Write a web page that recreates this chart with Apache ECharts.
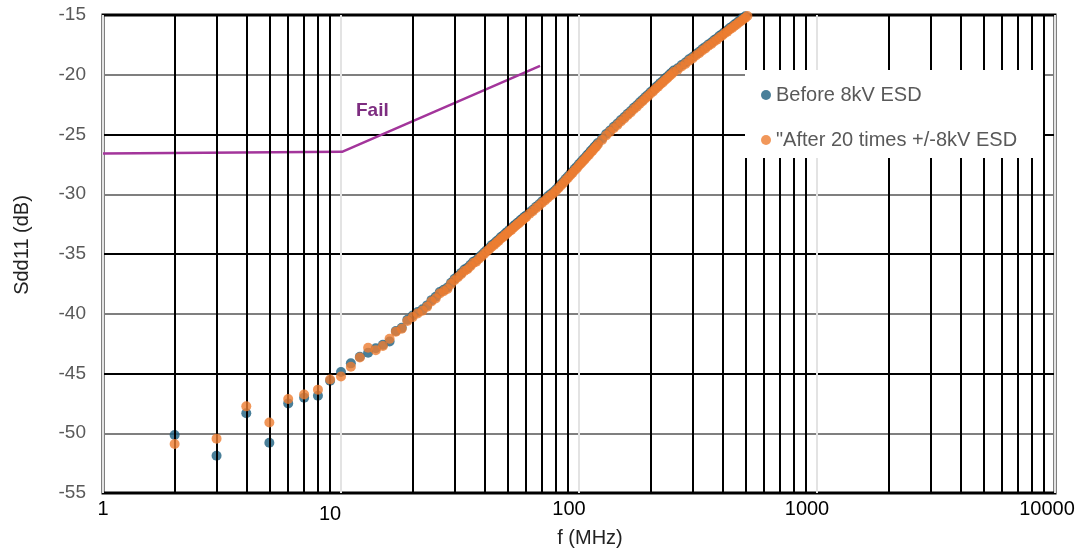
<!DOCTYPE html>
<html>
<head>
<meta charset="utf-8">
<script src="https://cdn.jsdelivr.net/npm/echarts@6/dist/echarts.min.js"></script>
<style>
  html, body { margin: 0; padding: 0; background: #fff; }
  #chart { width: 1081px; height: 554px; }
</style>
</head>
<body>
<div id="chart"></div>
<script>
// Measurement frequencies (MHz)
const freq = [
  2, 3, 4, 5, 6, 7, 8, 9, 10, 11, 12, 13, 14, 15, 16, 17, 18, 19, 20,
  21, 22, 23, 24, 25, 26, 27, 28, 29, 30, 31, 32, 33, 34, 35, 36, 37, 38, 39, 40,
  41, 42, 43, 44, 45, 46, 47, 48, 49, 50, 51, 52, 53, 54, 55, 56, 57, 58, 59, 60,
  62, 64, 66, 68, 70, 72, 74, 76, 78, 80, 82, 84, 86, 88, 90, 92, 94, 96, 98, 100,
  102, 104, 106, 108, 110, 112, 114, 116, 118, 120,
  125, 130, 135, 140, 145, 150, 155, 160, 165, 170, 175, 180, 185, 190, 195, 200,
  205, 210, 215, 220, 225, 230, 235, 240, 245, 250,
  260, 270, 280, 290, 300, 310, 320, 330, 340, 350, 360, 370, 380, 390, 400,
  410, 420, 430, 440, 450, 460, 470, 480, 490, 500, 510
];

// Sdd11 before ESD (dB)
const before = [
  -50.15, -51.88, -48.33, -50.8, -47.5, -47.02, -46.86, -45.6, -44.87, -44.15, -43.6, -43.26, -42.88, -42.6, -42.32, -41.45, -41.18, -40.5, -40.15,
  -39.85, -39.62, -39.3, -38.86, -38.58, -38.18, -38.0, -37.8, -37.4, -37.08, -36.83, -36.58, -36.3, -36.16, -35.9, -35.64, -35.52, -35.28, -35.08, -34.86,
  -34.66, -34.48, -34.26, -34.12, -33.93, -33.78, -33.58, -33.46, -33.28, -33.15, -32.98, -32.86, -32.68, -32.56, -32.4, -32.3, -32.14, -32.03, -31.88, -31.78,
  -31.51, -31.29, -31.04, -30.83, -30.59, -30.4, -30.17, -29.99, -29.82, -29.6, -29.38, -29.14, -28.93, -28.7, -28.5, -28.28, -28.09, -27.87, -27.7, -27.48,
  -27.31, -27.11, -26.94, -26.74, -26.59, -26.39, -26.24, -26.05, -25.91, -25.72,
  -25.34, -24.96, -24.66, -24.35, -24.08, -23.79, -23.54, -23.26, -23.03, -22.77, -22.55, -22.3, -22.1, -21.87, -21.67, -21.45,
  -21.27, -21.05, -20.88, -20.68, -20.52, -20.32, -20.17, -19.98, -19.84, -19.65,
  -19.45, -19.19, -18.97, -18.71, -18.51, -18.27, -18.08, -17.85, -17.67, -17.46, -17.3, -17.09, -16.94, -16.74, -16.6,
  -16.41, -16.27, -16.09, -15.96, -15.79, -15.67, -15.5, -15.38, -15.23, -15.11, -14.98
];

// Sdd11 after 20 times +/-8kV ESD (dB)
const after = [
  -50.9, -50.45, -47.75, -49.1, -47.13, -46.75, -46.35, -45.5, -45.25, -44.43, -43.66, -42.84, -43.06, -42.7, -42.1, -41.5, -41.25, -40.6, -40.28,
  -39.97, -39.74, -39.42, -38.98, -38.72, -38.3, -38.12, -37.92, -37.52, -37.2, -36.95, -36.7, -36.42, -36.28, -36.02, -35.76, -35.64, -35.4, -35.2, -34.98,
  -34.78, -34.6, -34.38, -34.24, -34.05, -33.9, -33.7, -33.58, -33.4, -33.27, -33.1, -32.98, -32.8, -32.68, -32.52, -32.42, -32.26, -32.15, -32.0, -31.9,
  -31.63, -31.41, -31.16, -30.95, -30.71, -30.52, -30.29, -30.11, -29.94, -29.72, -29.5, -29.26, -29.05, -28.82, -28.62, -28.4, -28.21, -27.99, -27.82, -27.6,
  -27.43, -27.23, -27.06, -26.86, -26.71, -26.51, -26.36, -26.17, -26.03, -25.84,
  -25.46, -25.08, -24.78, -24.47, -24.2, -23.91, -23.66, -23.38, -23.15, -22.89, -22.67, -22.42, -22.22, -21.99, -21.79, -21.57,
  -21.39, -21.17, -21.0, -20.8, -20.64, -20.44, -20.29, -20.1, -19.96, -19.77,
  -19.57, -19.31, -19.09, -18.83, -18.63, -18.39, -18.2, -17.97, -17.79, -17.58, -17.42, -17.21, -17.06, -16.86, -16.72,
  -16.53, -16.39, -16.21, -16.08, -15.91, -15.79, -15.62, -15.5, -15.35, -15.23, -15.09
];

// Fail limit mask
const failFreq = [1, 10.1, 68.6];
const failLimit = [-26.6, -26.45, -19.25];

// Log-axis decades and in-decade multipliers for the minor grid
const decades = [1, 10, 100, 1000];
const multipliers = [2, 3, 4, 5, 6, 7, 8, 9];

const seriesNames = ['Before 8kV ESD', '"After 20 times +/-8kV ESD'];

const minorGrid = [];
decades.forEach(d => multipliers.forEach(m => minorGrid.push({ xAxis: d * m })));

const FONT = '"Liberation Sans", Arial, sans-serif';
const tickText = { color: '#000', fontSize: 20, fontFamily: FONT };

const chart = echarts.init(document.getElementById('chart'), null, { renderer: 'canvas' });

chart.setOption({
  animation: false,
  backgroundColor: '#ffffff',
  grid: {
    left: 103, right: 26, top: 15, bottom: 61,
    containLabel: false, outerBoundsMode: 'none',
    show: true, borderColor: '#000', borderWidth: 3, backgroundColor: 'transparent'
  },
  legend: {
    data: seriesNames,
    orient: 'vertical',
    left: 745, top: 70,
    z: 12,
    padding: [15, 20, 8, 16],
    itemGap: 25,
    itemWidth: 10, itemHeight: 10,
    icon: 'circle',
    textStyle: { color: '#595959', fontSize: 20, fontFamily: FONT, lineHeight: 20 }
  },
  xAxis: {
    type: 'log', logBase: 10, min: 1, max: 10000,
    name: 'f (MHz)', nameLocation: 'middle', nameGap: 34,
    nameTextStyle: { color: '#222', fontSize: 20, fontFamily: FONT, padding: [0, 0, 0, 22] },
    axisLine: { show: false },
    axisTick: { show: false },
    axisLabel: {
      color: '#000', fontSize: 20, fontFamily: FONT, margin: 6,
      formatter: v => {
        const s = String(Math.round(v));
        if (s === '1') return s;
        if (s === '10') return '{ten|' + s + '}';
        if (s === '10000') return '{top|' + s + '}';
        return '{dec|' + s + '}';
      },
      rich: {
        ten: Object.assign({ padding: [5, 22, 0, 0] }, tickText),
        dec: Object.assign({ padding: [0, 20, 0, 0] }, tickText),
        top: Object.assign({ padding: [0, 16, 0, 0] }, tickText)
      }
    },
    splitLine: { show: true, lineStyle: { color: '#e3e3e3', width: 2 } }
  },
  yAxis: {
    type: 'value', min: -55, max: -15, interval: 5,
    name: 'Sdd11 (dB)', nameLocation: 'middle', nameGap: 71,
    nameTextStyle: { color: '#222', fontSize: 20, fontFamily: FONT, padding: [0, 0, 0, 18] },
    axisLine: { show: false },
    axisTick: { show: false },
    axisLabel: { color: '#595959', fontSize: 19, fontFamily: FONT, margin: 17 },
    splitLine: { show: true, lineStyle: { color: ['#000', '#7f7f7f'], width: 2 } }
  },
  graphic: [
    {
      // white panel behind the legend
      type: 'rect', z: 11, silent: true,
      shape: { x: 745, y: 70, width: 298, height: 88 },
      style: { fill: '#ffffff' }
    },
    {
      type: 'text', left: 356, top: 101, z: 10,
      style: { text: 'Fail', fill: '#7d2d80', font: 'bold 19px ' + FONT }
    }
  ],
  series: [
    {
      // minor vertical grid lines at 2..9 of each decade
      type: 'line', data: [], z: 1, silent: true,
      markLine: {
        silent: true, symbol: 'none', label: { show: false },
        lineStyle: { color: '#000', width: 2, type: 'solid' },
        emphasis: { disabled: true },
        data: minorGrid
      }
    },
    {
      name: 'Fail', type: 'line', z: 3, symbol: 'none',
      lineStyle: { color: '#a3359b', width: 2.5 },
      data: failFreq.map((f, i) => [f, failLimit[i]])
    },
    {
      name: seriesNames[0], type: 'scatter', z: 4,
      symbol: 'circle', symbolSize: 10,
      itemStyle: { color: '#1c5f80' },
      data: freq.map((f, i) => [f, before[i]])
    },
    {
      name: seriesNames[1], type: 'scatter', z: 5,
      symbol: 'circle', symbolSize: 10,
      itemStyle: { color: '#ed7d31' },
      data: freq.map((f, i) => [f, after[i]])
    }
  ]
});
</script>
</body>
</html>
